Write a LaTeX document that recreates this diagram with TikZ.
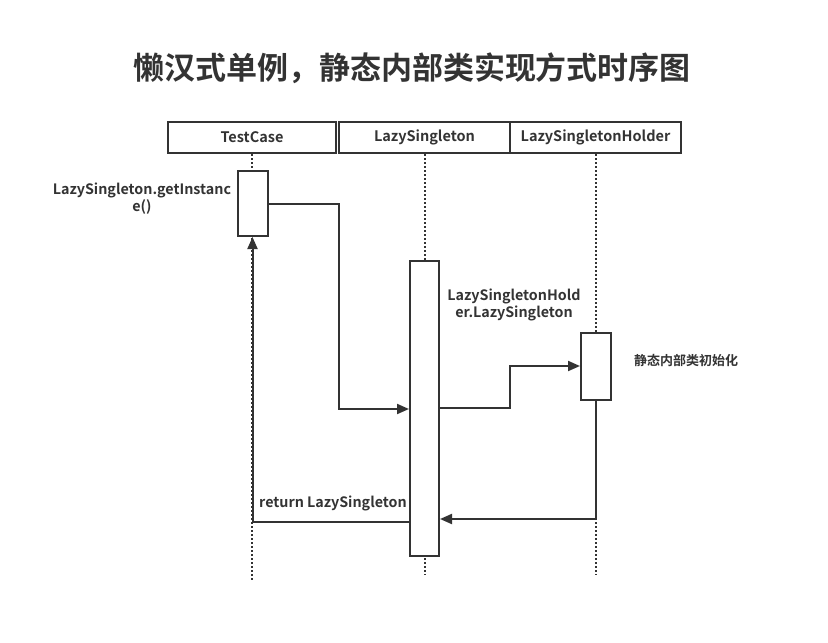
\documentclass[tikz,border=0pt]{standalone}
\usepackage{fontspec}
\setmainfont{Noto Sans CJK SC}[BoldFont={Noto Sans CJK SC Bold}]
\usetikzlibrary{arrows.meta}
\definecolor{c}{HTML}{333333}
\begin{document}
\begin{tikzpicture}[x=1pt,y=-1pt,
  hdr/.style={draw=c, line width=2pt, minimum height=31pt, inner sep=0pt, text=c, font=\fontsize{14.5}{16}\selectfont\bfseries},
  act/.style={draw=c, fill=white, line width=2pt, minimum width=30pt, inner sep=0pt},
  life/.style={draw=c, line width=2pt, dash pattern=on 2pt off 2pt},
  msg/.style={draw=c, line width=2pt, -{Triangle[length=12pt,width=10pt]}},
  lbl/.style={font=\fontsize{14.3}{17}\selectfont\bfseries, text=c, align=center, inner sep=0pt},
  cjk/.style={font=\fontsize{13}{17}\selectfont\bfseries, text=c, inner sep=0pt}]
\useasboundingbox (0,0) rectangle (828,643);
\node[font=\fontsize{31}{36}\selectfont\bfseries, text=c] (t) at (412,68) {懒汉式单例，静态内部类实现方式时序图};
\node[hdr, minimum width=168pt] (h1) at (252,137.5) {TestCase};
\node[hdr, minimum width=171pt] (h2) at (424.5,137.5) {LazySingleton};
\node[hdr, minimum width=171pt] (h3) at (595.5,137.5) {LazySingletonHolder};
\coordinate (e1) at (252,580);
\coordinate (e2) at (424.5,575);
\coordinate (e3) at (595.5,575);
\draw[life] (h1.south) -- (e1);
\draw[life] (h2.south) -- (e2);
\draw[life] (h3.south) -- (e3);
\node[act, minimum height=65pt] (a1) at (252.5,203.5) {};
\node[act, minimum width=29pt, minimum height=295pt] (a2) at (424.5,408.5) {};
\node[act, minimum height=67pt] (a3) at (596,366.5) {};
\coordinate (k1) at (339,409);
\coordinate (y408) at (0,408);
\coordinate (k2) at (510,366);
\coordinate (k3) at (596,519);
\coordinate (k4) at (253,522);
\draw[msg] (a1.east) -| (k1) -- (a2.west |- k1);
\draw[msg] (a2.east |- y408) -| (k2) -- (a3.west |- k2);
\draw[msg] (a3.south) |- (a2.east |- k3);
\draw[msg] (a2.west |- k4) -| (a1.south);
\node[lbl] (l1) at (142,198.5) {LazySingleton.getInstanc\\e()};
\node[lbl] (l2) at (514,304.5) {LazySingletonHold\\er.LazySingleton};
\node[cjk, anchor=west] (l3) at (634,361) {静态内部类初始化};
\node[lbl, anchor=west] (l4) at (259,503) {return LazySingleton};
\end{tikzpicture}
\end{document}
